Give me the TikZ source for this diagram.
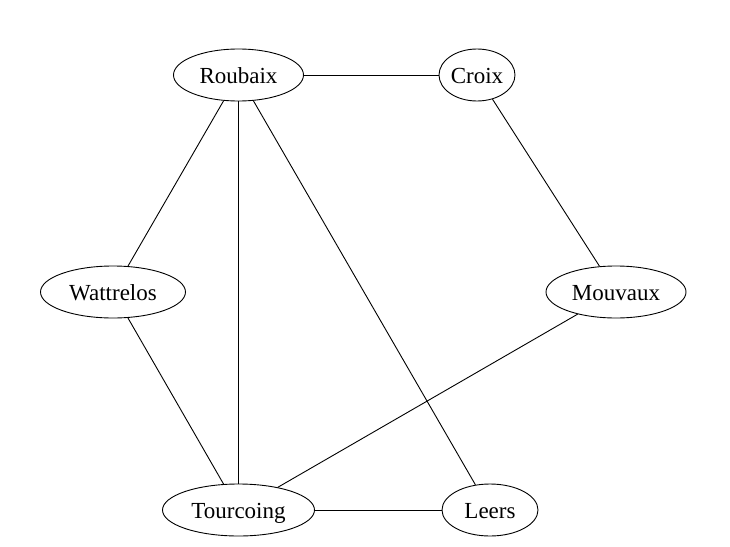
\documentclass[tikz,border=0pt]{standalone}
\usepackage{fontspec}
\setmainfont{Liberation Serif}
\usetikzlibrary{positioning,shapes.geometric}

\begin{document}
\begin{tikzpicture}[
		x=1pt,
		y=-1pt,
		line width=0.9pt,
		town/.style={
			draw,
			ellipse,
			inner sep=0pt,
			minimum height=52pt,
			text height=17pt,
			text depth=0pt,
			font=\fontsize{23}{28}\selectfont
		}
		]
		
		\useasboundingbox (0,0) rectangle (730,546);
		
		%--------------------------------------------------
		% Nodes
		%--------------------------------------------------
		
		\node (roubaix) [town,minimum width=130pt] at (238.5,75) {Roubaix};
		
		\node (croix) [town,minimum width=76pt] at (477,75) {Croix};
		
		\node (wattrelos) [town,minimum width=145pt] at (113,292) {Wattrelos};
		
		\node (mouvaux) [town,minimum width=140pt] at (616,292) {Mouvaux};
		
		\node (tourcoing) [town,minimum width=152pt] at (238.5,510) {Tourcoing};
		
		\node (leers) [town,minimum width=96pt] at (490,510) {Leers};
		
		%--------------------------------------------------
		% Edges
		%--------------------------------------------------
		
		\draw (roubaix) -- (croix);
		
		\draw (roubaix) -- (wattrelos);
		
		\draw (roubaix) -- (tourcoing);
		
		\draw (roubaix) -- (leers);
		
		\draw (croix) -- (mouvaux);
		
		\draw (wattrelos) -- (tourcoing);
		
		\draw (mouvaux) -- (tourcoing);
		
		\draw (tourcoing) -- (leers);
		
	\end{tikzpicture}
\end{document}
